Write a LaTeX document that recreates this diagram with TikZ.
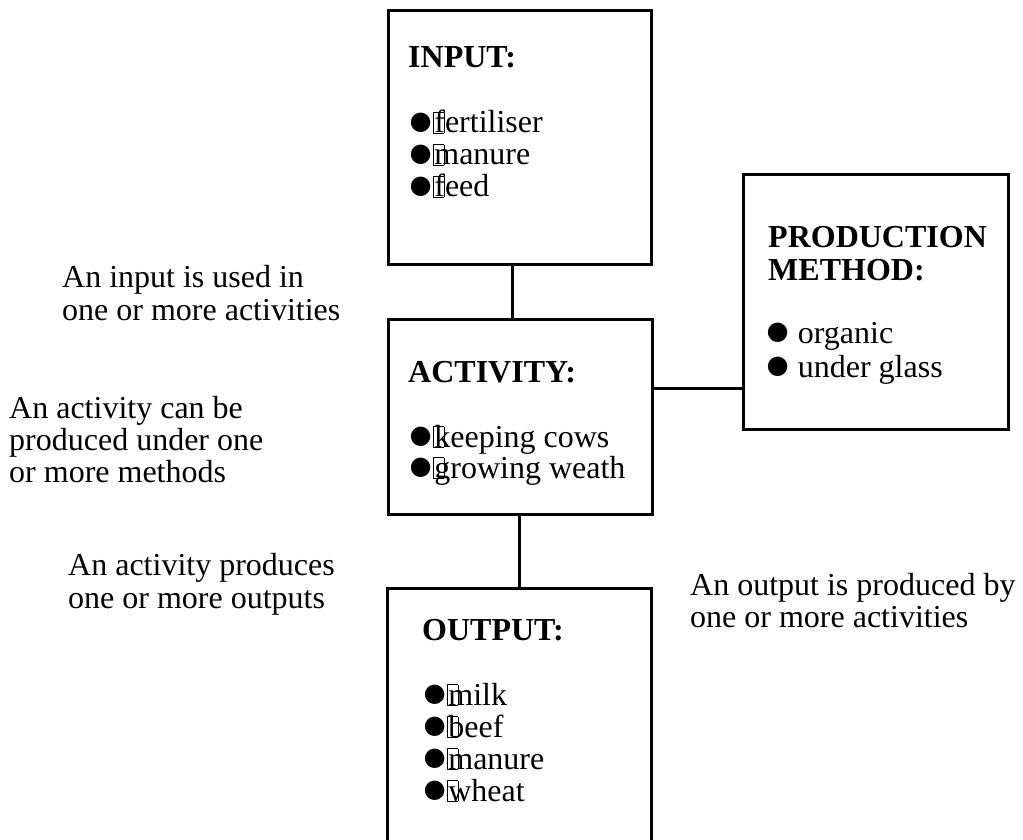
\documentclass[tikz,border=0pt]{standalone}
\usepackage{fontspec}
\setmainfont{Liberation Serif}

% stacked left-aligned lines whose reference point is the first baseline
\newcommand\stacklines[2][32pt]{\vtop{\baselineskip=#1\lineskiplimit=-100pt\halign{##\hfil\cr#2\crcr}}}
\newcommand\bul{\kern-3pt\raisebox{-2.5pt}{\fontsize{45}{45}\selectfont ●}\kern-1.5pt}
% empty placeholder glyph frame printed after each bullet
\newcommand\nog{\rlap{{\fboxsep=0pt\fboxrule=0.8pt\fbox{\rule{0pt}{20pt}\hspace{10pt}}}}\kern1.5pt}

\tikzset{
  entity/.style={draw, line width=3pt, rectangle, inner sep=0pt, outer sep=0pt, anchor=north west},
  txt/.style={inner sep=0pt, anchor=base west, font=\fontsize{32}{33}\selectfont},
  ttl/.style={txt, font=\fontsize{32}{33}\selectfont\bfseries},
  link/.style={line width=3pt}
}

\begin{document}
\begin{tikzpicture}[x=1pt,y=-1pt]
\useasboundingbox (0,0) rectangle (1023,840);

% entity boxes
\node[entity, minimum width=263pt, minimum height=253pt] (input) at (388,11) {};
\node[entity, minimum width=264pt, minimum height=195pt] (act) at (388,319) {};
\node[entity, minimum width=265pt, minimum height=254pt] (pm) at (743,175) {};
\node[entity, minimum width=264pt, minimum height=253pt] (out) at (387,588) {};

% relationship lines
\draw[link] (input.south west) ++(124,0) coordinate (c1) -- (c1 |- act.north);
\draw[link] (act.east |- 0,388) coordinate (c2) -- (c2 -| pm.west);
\draw[link] (act.south west) ++(131,0) coordinate (c3) -- (c3 |- out.north);

% box contents
\node[ttl] (inputT) at (408,68) {INPUT:};
\node[txt] (inputL) at (410,133) {\stacklines{\bul\nog fertiliser\cr\bul\nog manure\cr\bul\nog feed}};

\node[ttl] (actT) at (408,382) {ACTIVITY:};
\node[txt] (actL) at (410,447) {\stacklines[31pt]{\bul\nog keeping cows\cr\bul\nog growing weath}};

\node[ttl] (pmT) at (768,247) {\stacklines[33pt]{PRODUCTION\cr METHOD:}};
\node[txt] (pmL) at (767,343) {\stacklines[34pt]{\bul\ organic\cr\bul\ under glass}};

\node[ttl] (outT) at (422,640) {OUTPUT:};
\node[txt] (outL) at (424,705) {\stacklines{\bul\nog milk\cr\bul\nog beef\cr\bul\nog manure\cr\bul\nog wheat}};

% relationship descriptions
\node[txt] (r1) at (62,287) {\stacklines[33pt]{An input is used in\cr one or more activities}};
\node[txt] (r2) at (9,418) {\stacklines{An activity can be\cr produced under one\cr or more methods}};
\node[txt] (r3) at (68,575) {\stacklines[33pt]{An activity produces\cr one or more outputs}};
\node[txt] (r4) at (690,595) {\stacklines{An output is produced by\cr one or more activities}};
\end{tikzpicture}
\end{document}
